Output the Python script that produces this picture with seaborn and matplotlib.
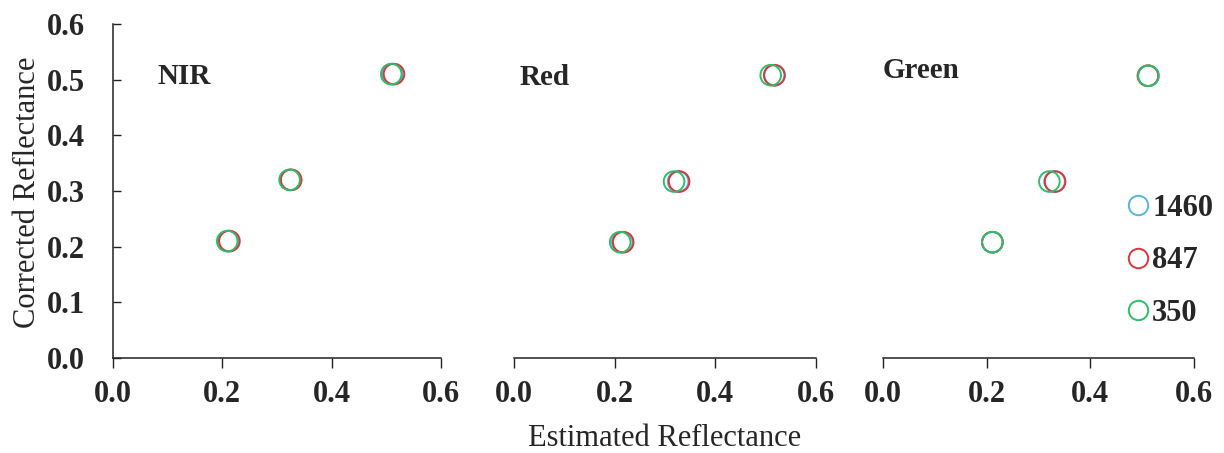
import numpy as np
import pandas as pd
import matplotlib
matplotlib.use("Agg")
import matplotlib.pyplot as plt
import seaborn as sns

# Bands and series
bands = ["NIR", "Red", "Green"]
series = ["1460", "847", "350"]
colors = ["#5ab4d9", "#d9363e", "#2fbd6a"]

# Corrected reflectance (y) per band
corr_nir = [0.210, 0.320, 0.510]
corr_red = [0.208, 0.317, 0.508]
corr_green = [0.208, 0.317, 0.507]

# Estimated reflectance (x) per band and series
est_nir_1460 = [0.211, 0.325, 0.511]
est_nir_847 = [0.213, 0.326, 0.514]
est_nir_350 = [0.209, 0.323, 0.509]
est_red_1460 = [0.215, 0.326, 0.518]
est_red_847 = [0.217, 0.328, 0.517]
est_red_350 = [0.211, 0.318, 0.510]
est_green_1460 = [0.211, 0.331, 0.512]
est_green_847 = [0.211, 0.332, 0.511]
est_green_350 = [0.211, 0.321, 0.512]

est = {
    "NIR": [est_nir_1460, est_nir_847, est_nir_350],
    "Red": [est_red_1460, est_red_847, est_red_350],
    "Green": [est_green_1460, est_green_847, est_green_350],
}
corr = {"NIR": corr_nir, "Red": corr_red, "Green": corr_green}

rows = []
for b in bands:
    for s, xs in zip(series, est[b]):
        for x, y in zip(xs, corr[b]):
            rows.append({"band": b, "series": s, "est": x, "corr": y})
df = pd.DataFrame(rows)

sns.set_style("ticks")
plt.rcParams["font.family"] = ["Liberation Serif", "DejaVu Serif"]

fig = plt.figure(figsize=(12.24, 4.53), dpi=100)
W, H = 1224, 453
bottom = (H - 358) / H
height = 334 / H
axes_px = [(113, 328), (514, 302), (883, 311)]
title_pos = [(0.137, 0.844), (0.02, 0.841), (0.0, 0.862)]

palette = dict(zip(series, colors))
FS = 22

for i, (b, (lx, wx)) in enumerate(zip(bands, axes_px)):
    ax = fig.add_axes([lx / W, bottom, wx / W, height])
    sub = df[df["band"] == b]
    sns.scatterplot(data=sub, x="est", y="corr", hue="series", hue_order=series,
                    palette=palette, marker="o", s=220, facecolors="none",
                    linewidth=1.4, ax=ax, legend=False)
    # hollow markers: move the hue colours onto the edges
    coll = ax.collections[0]
    fc = coll.get_facecolors()
    coll.set_edgecolors(fc)
    coll.set_facecolors("none")

    ax.set_xlim(0, 0.6)
    ax.set_ylim(0, 0.6)
    ax.set_xticks([0.0, 0.2, 0.4, 0.6])
    ax.set_xticklabels(["0.0", "0.2", "0.4", "0.6"], fontsize=FS, fontweight="bold")
    ax.tick_params(axis="x", direction="out", length=7, width=1, pad=9, color="#222222")
    ax.set_xlabel("")
    ax.set_ylabel("")
    ax.spines["top"].set_visible(False)
    ax.spines["right"].set_visible(False)
    ax.spines["bottom"].set_linewidth(1.1)
    ax.spines["bottom"].set_color("#222222")
    if i == 0:
        ax.set_yticks([0.0, 0.1, 0.2, 0.3, 0.4, 0.5, 0.6])
        ax.set_yticklabels(["0.0", "0.1", "0.2", "0.3", "0.4", "0.5", "0.6"],
                           fontsize=FS, fontweight="bold")
        ax.tick_params(axis="y", direction="in", length=6, width=1, pad=20, color="#222222")
        ax.spines["left"].set_linewidth(1.1)
        ax.spines["left"].set_color("#222222")
    else:
        ax.spines["left"].set_visible(False)
        ax.set_yticks([])
    ax.text(title_pos[i][0], title_pos[i][1], b, transform=ax.transAxes,
            fontsize=21, fontweight="bold", ha="left", va="center")
    ax.set_facecolor("none")

    if i == 2:
        handles = [plt.Line2D([], [], linestyle="none", marker="o", markersize=14,
                              markerfacecolor="none", markeredgecolor=c,
                              markeredgewidth=1.4) for c in colors]
        ax.legend(handles, series, frameon=False, loc="center left",
                  bbox_to_anchor=(0.703, 0.291), handlelength=0.6,
                  handletextpad=0.15, labelspacing=0.77,
                  prop={"family": "Liberation Serif", "weight": "bold", "size": FS})

fig.text(665 / W, (H - 438) / H, "Estimated Reflectance", ha="center", va="center",
         fontsize=FS)
fig.text(28 / W, (H - 192) / H, "Corrected Reflectance", ha="center", va="center",
         rotation=90, fontsize=FS)

fig.savefig("out.png", dpi=100)
